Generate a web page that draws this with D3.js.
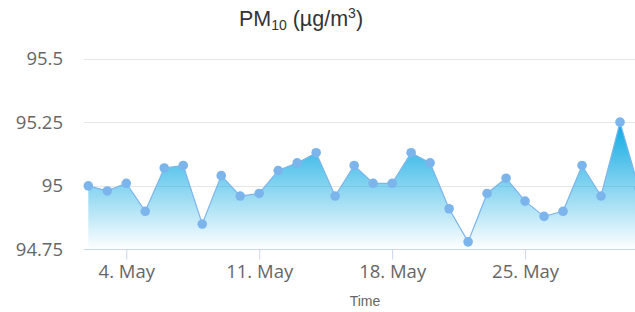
<!DOCTYPE html>
<html>
<head>
<meta charset="utf-8">
<script src="https://cdn.jsdelivr.net/npm/d3@7"></script>
<style>
  body { margin: 0; background: #fff; overflow: hidden; }
  svg { display: block; }
</style>
</head>
<body>
<script>
// daily PM10 readings, 2 May .. 31 May
var startDay = "2018-05-02";
var values = [95.00, 94.98, 95.01, 94.90, 95.07, 95.08, 94.85, 95.04, 94.96, 94.97,
              95.06, 95.09, 95.13, 94.96, 95.08, 95.01, 95.01, 95.13, 95.09, 94.91,
              94.78, 94.97, 95.03, 94.94, 94.88, 94.90, 95.08, 94.96, 95.25, 94.99];
var yTicks = [94.75, 95, 95.25, 95.5];
var xTickDays = ["2018-05-04", "2018-05-11", "2018-05-18", "2018-05-25"];

var W = 635, H = 312;
var plotLeft = 84, plotRight = 635;

var parse = d3.timeParse("%Y-%m-%d");
var t0 = parse(startDay);
var data = values.map(function(v, i) {
  return { date: d3.timeDay.offset(t0, i), value: v };
});

var x = d3.scaleTime()
  .domain([t0, d3.timeDay.offset(t0, values.length - 1)])
  .range([88.3, 88.3 + 18.99 * (values.length - 1)]);
var y = d3.scaleLinear().domain([94.75, 95.5]).range([249.5, 58.5]);

var svg = d3.select("body").append("svg")
  .attr("width", W).attr("height", H);

var defs = svg.append("defs");
var grad = defs.append("linearGradient")
  .attr("id", "fillGrad")
  .attr("x1", 0).attr("y1", 0).attr("x2", 0).attr("y2", 1);
grad.append("stop").attr("offset", "0%").attr("stop-color", "#0aa8e2");
grad.append("stop").attr("offset", "100%").attr("stop-color", "#0aa8e2").attr("stop-opacity", 0);

// grid lines
svg.append("g").selectAll("line")
  .data(yTicks.slice(1))
  .enter().append("line")
  .attr("x1", plotLeft).attr("x2", plotRight)
  .attr("y1", function(d) { return Math.round(y(d)) + 0.5; })
  .attr("y2", function(d) { return Math.round(y(d)) + 0.5; })
  .style("stroke", "#e6e6e6").style("stroke-width", 1);

// y labels
svg.append("g").selectAll("text")
  .data(yTicks)
  .enter().append("text")
  .attr("x", 63)
  .attr("y", function(d) { return y(d) + 6.5; })
  .attr("text-anchor", "end")
  .style("font-family", "'Open Sans', sans-serif")
  .style("font-size", "18.5px")
  .style("fill", "#666")
  .text(function(d) { return d3.format("")(d); });

// area + line
var area = d3.area()
  .x(function(d) { return x(d.date); })
  .y0(y(94.75))
  .y1(function(d) { return y(d.value); });
var line = d3.line()
  .x(function(d) { return x(d.date); })
  .y(function(d) { return y(d.value); });

svg.append("path").datum(data)
  .attr("d", area)
  .style("fill", "url(#fillGrad)");
svg.append("path").datum(data)
  .attr("d", line)
  .style("fill", "none")
  .style("stroke", "#7cb5ec")
  .style("stroke-width", 1.2);

// x axis
var xAxis = d3.axisBottom(x)
  .tickValues(xTickDays.map(parse))
  .tickSize(10)
  .tickSizeOuter(0)
  .tickPadding(5)
  .tickFormat(d3.timeFormat("%-d. %b"));

var gx = svg.append("g")
  .attr("transform", "translate(0," + 249.5 + ")")
  .call(xAxis);
gx.select(".domain").remove();
gx.selectAll(".tick line").style("stroke", "#ccd6eb");
gx.selectAll(".tick text")
  .style("font-family", "'Open Sans', sans-serif")
  .style("font-size", "18.5px")
  .style("fill", "#666");
gx.append("line")
  .attr("x1", plotLeft).attr("x2", plotRight)
  .attr("y1", 0).attr("y2", 0)
  .style("stroke", "#ccd6eb");

// markers
svg.append("g").selectAll("circle")
  .data(data)
  .enter().append("circle")
  .attr("cx", function(d) { return x(d.date); })
  .attr("cy", function(d) { return y(d.value); })
  .attr("r", 4.8)
  .style("fill", "#7cb5ec");

// title
var title = svg.append("text")
  .attr("x", 301).attr("y", 26)
  .attr("text-anchor", "middle")
  .style("font-family", "'Liberation Sans', Arial, sans-serif")
  .style("font-size", "21.5px")
  .style("fill", "#333");
title.append("tspan").text("PM");
title.append("tspan").attr("dy", 4).style("font-size", "14px").text("10");
title.append("tspan").attr("dy", -4).text(" (µg/m");
title.append("tspan").attr("dy", -8).style("font-size", "14px").text("3");
title.append("tspan").attr("dy", 8).text(")");

// x axis title
svg.append("text")
  .attr("x", 365).attr("y", 305.5)
  .attr("text-anchor", "middle")
  .style("font-family", "'Liberation Sans', Arial, sans-serif")
  .style("font-size", "14px")
  .style("fill", "#666")
  .text("Time");
</script>
</body>
</html>
